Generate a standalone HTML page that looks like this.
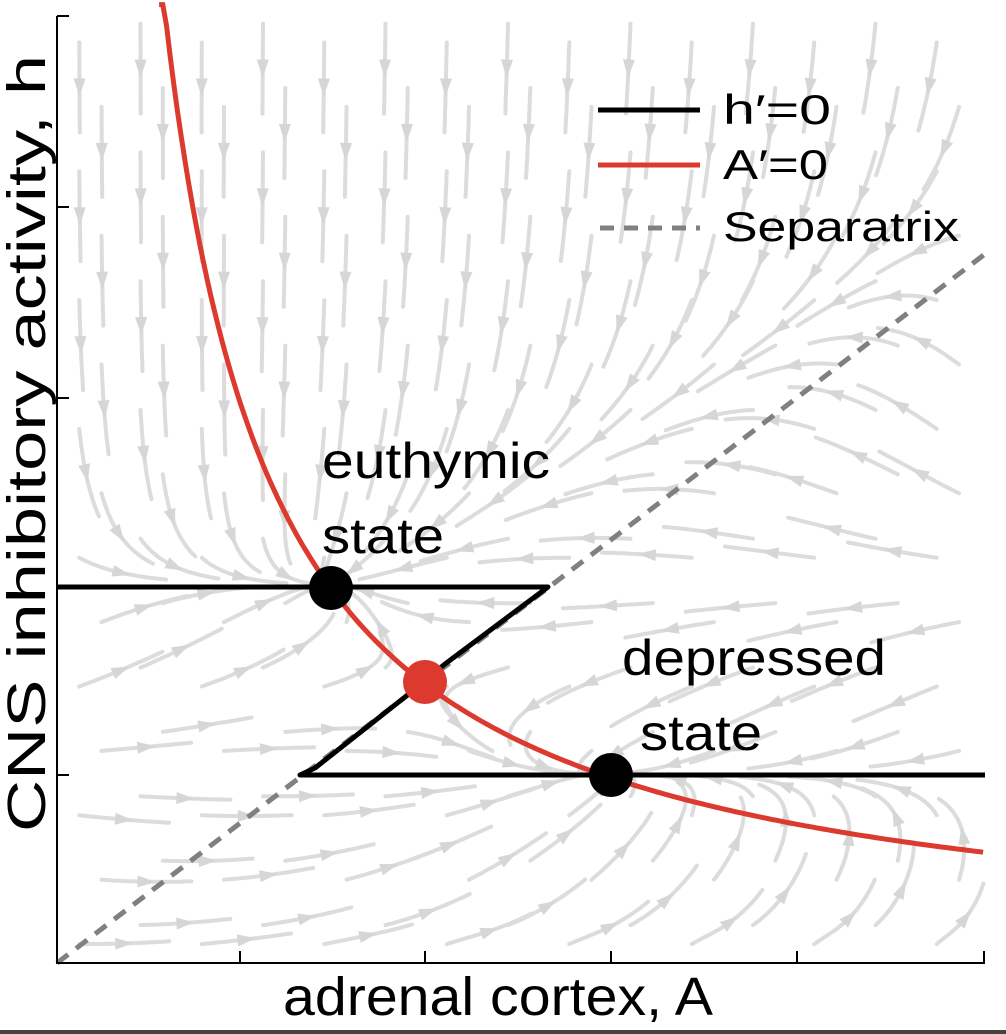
<!DOCTYPE html>
<html><head><meta charset="utf-8"><style>
html,body{margin:0;padding:0;background:#fff;width:1006px;height:1034px;overflow:hidden}
svg{display:block}
text{font-family:"Liberation Sans",Arial,sans-serif;fill:#000}
</style></head><body>
<svg id="s" width="1006" height="1034" viewBox="0 0 1006 1034" xmlns="http://www.w3.org/2000/svg">
<g id="field" stroke="#dcdcdc" fill="none" stroke-width="4" stroke-linecap="round"></g>
<g id="heads" fill="#d6d6d6"></g>
<line x1="57" y1="963" x2="985" y2="254" stroke="#808080" stroke-width="5" stroke-dasharray="14,10"/>
<path d="M57,587 L548,587 L445,664 L405,697 L315,768 L300,775 L985,775" stroke="#000" stroke-width="5" fill="none" stroke-linejoin="round"/>
<path id="red" stroke="#dc3a2f" stroke-width="5" fill="none"/>
<circle cx="331" cy="588" r="22" fill="#000"/>
<circle cx="611" cy="775" r="22" fill="#000"/>
<circle cx="425" cy="682" r="22" fill="#dc3a2f"/>
<g stroke="#000" stroke-width="2" fill="none">
<path d="M57,16 L57,963 L985,963"/>
<path d="M57,16h12M57,207h12M57,398h12M57,588h12M57,775h12"/>
<path d="M240,963v-12M425,963v-12M611,963v-12M797,963v-12M984,963v-12"/>
</g>
<line x1="598" y1="110" x2="700" y2="110" stroke="#000" stroke-width="5"/>
<line x1="598" y1="165" x2="700" y2="165" stroke="#dc3a2f" stroke-width="5"/>
<line x1="600" y1="228" x2="700" y2="228" stroke="#808080" stroke-width="5" stroke-dasharray="14,10"/>
<text x="723" y="124" font-size="42" textLength="108" lengthAdjust="spacingAndGlyphs">h′=0</text>
<text x="723" y="179" font-size="42" textLength="105" lengthAdjust="spacingAndGlyphs">A′=0</text>
<text x="723" y="241" font-size="42" textLength="236" lengthAdjust="spacingAndGlyphs">Separatrix</text>
<text x="322" y="478" font-size="50" textLength="228" lengthAdjust="spacingAndGlyphs">euthymic</text>
<text x="322" y="553" font-size="50" textLength="122" lengthAdjust="spacingAndGlyphs">state</text>
<text x="622" y="675" font-size="50" textLength="264" lengthAdjust="spacingAndGlyphs">depressed</text>
<text x="640" y="750" font-size="50" textLength="122" lengthAdjust="spacingAndGlyphs">state</text>
<text x="283" y="1015" font-size="54" textLength="430" lengthAdjust="spacingAndGlyphs">adrenal cortex, A</text>
<text transform="translate(45,832) rotate(-90)" font-size="54" textLength="777" lengthAdjust="spacingAndGlyphs">CNS inhibitory activity, h</text>
<rect x="0" y="1030" width="1006" height="4" fill="#444"/>
</svg>
<script>
(function(){
var X0=57,SX=185.6,Y0=963,SY=189.4;
function px(a){return X0+a*SX} function py(h){return Y0-h*SY}
var d="";for(var a=0.55;a<=5.0;a+=0.02){var h=2.92/a;if(h>5.06)h=5.06;d+=(d?"L":"M")+px(a).toFixed(1)+","+py(h).toFixed(1);}
document.getElementById("red").setAttribute("d",d);
function f(a,h){
  var m=1+(a-1.3)/1.3;
  var dh=-(h-1)*(h-2)*(h-m)*1.2;
  var da=(2.92/Math.max(h,0.15)-a)*0.6;
  return [da,dh];
}
var F=document.getElementById("field"),H=document.getElementById("heads"),ns="http://www.w3.org/2000/svg";
for(var i=0;i<15;i++)for(var j=0;j<15;j++){
  var a=0.12+i*0.33+(j%2)*0.12, h=0.1+j*0.34+(i%2)*0.1;
  var x=px(a),y=py(h),pts=[[x,y]],L=0;
  while(L<90){
    var A=(x-X0)/SX,Hh=(Y0-y)/SY,v=f(A,Hh);
    var vx=v[0]*SX,vy=-v[1]*SY,n=Math.hypot(vx,vy);if(n<1e-6)break;
    x+=vx/n*3;y+=vy/n*3;L+=3;
    if(x<60||x>984||y<18||y>961)break;
    pts.push([x,y]);
  }
  if(pts.length<6)continue;
  var p=document.createElementNS(ns,"polyline");
  p.setAttribute("points",pts.map(function(q){return q[0].toFixed(1)+","+q[1].toFixed(1)}).join(" "));
  F.appendChild(p);
  var k=Math.floor(pts.length/2),q0=pts[k-1],q1=pts[k];
  var ang=Math.atan2(q1[1]-q0[1],q1[0]-q0[0]);
  var c=Math.cos(ang),s=Math.sin(ang),L2=18,W=6;
  var tx=q1[0]+c*L2/2,ty=q1[1]+s*L2/2,bx=q1[0]-c*L2/2,by=q1[1]-s*L2/2;
  var t=document.createElementNS(ns,"polygon");
  t.setAttribute("points",tx+","+ty+" "+(bx-s*W)+","+(by+c*W)+" "+(bx+s*W)+","+(by-c*W));
  H.appendChild(t);
}
})();
</script>
</body></html>
